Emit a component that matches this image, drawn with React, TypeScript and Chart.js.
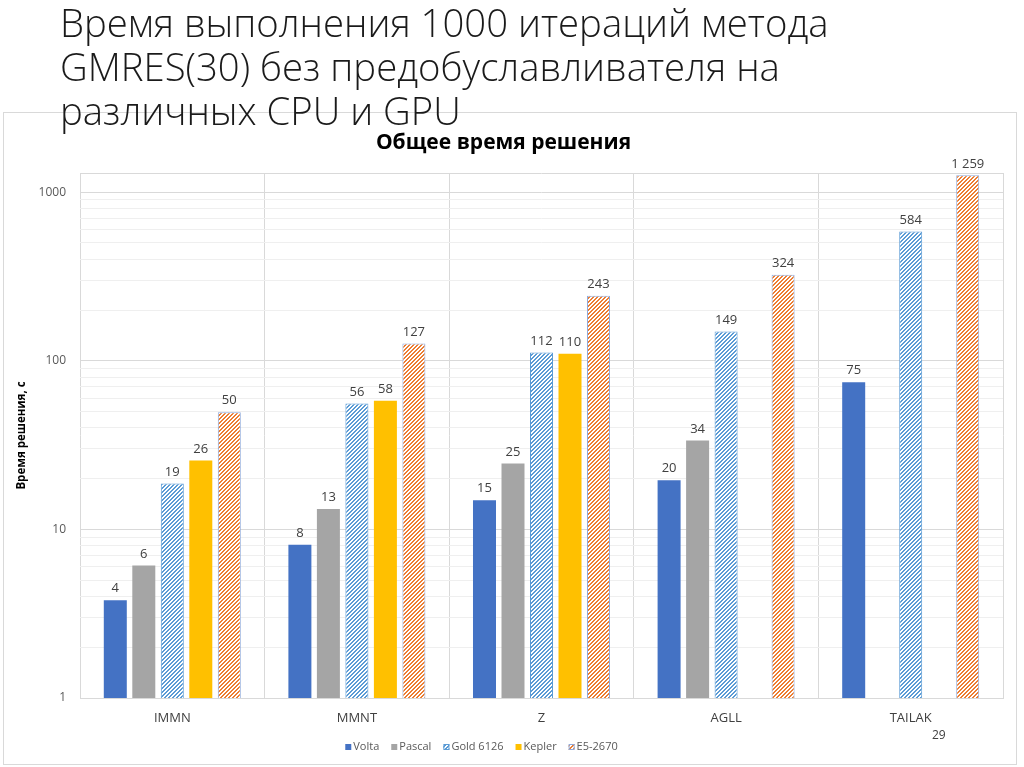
import React, { useEffect, useRef } from "react";
import { Chart, registerables } from "chart.js";

Chart.register(...registerables);

// ---- data ----
const categories = ["IMMN", "MMNT", "Z", "AGLL", "TAILAK"];
const seriesNames = ["Volta", "Pascal", "Gold 6126", "Kepler", "E5-2670"];
const volta = [3.8, 8.1, 14.9, 19.6, 74.6];
const pascal = [6.1, 13.2, 24.6, 33.7, null];
const gold6126 = [18.7, 55.8, 112, 149, 584];
const kepler = [25.6, 57.9, 110, null, null];
const e52670 = [49.5, 126.5, 243, 324, 1259];
const yMajorTicks = [1, 10, 100, 1000];
const yMin = 1;
const yMax = 1300;

const slideTitleLines = [
  "Время выполнения 1000 итераций метода",
  "GMRES(30) без предобуславливателя на",
  "различных CPU и GPU",
];
const chartTitle = "Общее время решения";
const yAxisTitle = "Время решения, с";
const pageNumber = "29";

const FONT = "'Open Sans', 'DejaVu Sans', sans-serif";

function fmt(v: number): string {
  const s = String(Math.round(v));
  return s.replace(/\B(?=(\d{3})+(?!\d))/g, " ");
}

function makeHatch(ctx: CanvasRenderingContext2D, color: string, bg: string, period: number, on: number) {
  const c = document.createElement("canvas");
  c.width = period;
  c.height = period;
  const g = c.getContext("2d")!;
  g.fillStyle = bg;
  g.fillRect(0, 0, period, period);
  g.fillStyle = color;
  for (let x = 0; x < period; x++)
    for (let y = 0; y < period; y++) if ((x + y) % period < on) g.fillRect(x, y, 1, 1);
  return ctx.createPattern(c, "repeat")!;
}

const dataLabelsPlugin = {
  id: "barValueLabels",
  afterDatasetsDraw(chart: any) {
    const ctx = chart.ctx;
    ctx.save();
    ctx.font = `13px ${FONT}`;
    ctx.fillStyle = "#404040";
    ctx.textAlign = "center";
    ctx.textBaseline = "bottom";
    chart.data.datasets.forEach((ds: any, i: number) => {
      const meta = chart.getDatasetMeta(i);
      meta.data.forEach((bar: any, j: number) => {
        const v = ds.data[j];
        if (v == null) return;
        ctx.fillText(fmt(v), bar.x, bar.y - 5);
      });
    });
    ctx.restore();
  },
};

const customLegendPlugin = {
  id: "customLegend",
  afterDraw(chart: any) {
    const ctx = chart.ctx;
    ctx.save();
    ctx.font = `11px ${FONT}`;
    ctx.textBaseline = "middle";
    ctx.textAlign = "left";
    const box = 6;
    const gapText = 2;
    const gapItem = 12;
    const items = chart.data.datasets.map((ds: any) => ({
      ds,
      w: box + gapText + ctx.measureText(ds.label).width,
    }));
    const total = items.reduce((a: number, it: any) => a + it.w, 0) + gapItem * (items.length - 1);
    const cx = 477.5;
    const cy = 634;
    let x = cx - total / 2;
    items.forEach((it: any) => {
      ctx.fillStyle = it.ds.backgroundColor;
      ctx.fillRect(x, cy - box / 2, box, box);
      if (it.ds.borderWidth) {
        ctx.strokeStyle = it.ds.borderColor;
        ctx.lineWidth = 1;
        ctx.strokeRect(x + 0.5, cy - box / 2 + 0.5, box - 1, box - 1);
      }
      ctx.fillStyle = "#595959";
      ctx.fillText(it.ds.label, x + box + gapText, cy);
      x += it.w + gapItem;
    });
    ctx.restore();
  },
};

export default function App() {
  const ref = useRef<HTMLCanvasElement>(null);

  useEffect(() => {
    const canvas = ref.current!;
    const ctx = canvas.getContext("2d")!;
    const goldPattern = makeHatch(ctx, "#5b9bd5", "#ffffff", 4, 2);
    const e5Pattern = makeHatch(ctx, "#ed7d31", "#ffffff", 4, 2);

    const minorTicks: number[] = [];
    for (let d = yMin; d < yMax; d *= 10) {
      for (let k = 1; k < 10; k++) {
        const v = d * k;
        if (v <= yMax) minorTicks.push(v);
      }
    }
    const allTicks = Array.from(new Set([...minorTicks, ...yMajorTicks, yMax])).sort((a, b) => a - b);

    const chart = new Chart(canvas, {
      type: "bar",
      data: {
        labels: categories,
        datasets: [
          { label: seriesNames[0], data: volta, backgroundColor: "#4472c4", borderWidth: 0 },
          { label: seriesNames[1], data: pascal, backgroundColor: "#a5a5a5", borderWidth: 0 },
          { label: seriesNames[2], data: gold6126, backgroundColor: goldPattern as any, borderColor: "#5b9bd5", borderWidth: 1 },
          { label: seriesNames[3], data: kepler, backgroundColor: "#ffc000", borderWidth: 0 },
          { label: seriesNames[4], data: e52670, backgroundColor: e5Pattern as any, borderColor: "#8faadc", borderWidth: 1 },
        ] as any,
      },
      options: {
        responsive: false,
        animation: false,
        events: [],
        layout: { padding: { left: 0, right: 13, top: 0, bottom: 33 } },
        datasets: {
          bar: { categoryPercentage: 0.772, barPercentage: 0.807 },
        } as any,
        plugins: {
          legend: { display: false },
          tooltip: { enabled: false },
          title: {
            display: true,
            text: chartTitle,
            color: "#000000",
            font: { family: FONT, size: 21, weight: "bold" },
            padding: { top: 17.4, bottom: 17.4 },
          },
        },
        scales: {
          x: {
            grid: { color: "#d9d9d9", drawTicks: false, offset: true },
            border: { color: "#d9d9d9" },
            ticks: { color: "#404040", font: { family: FONT, size: 13 }, padding: 12 },
            afterFit: (s: any) => {
              s.height = 33;
            },
          },
          y: {
            type: "logarithmic",
            min: yMin,
            max: yMax,
            border: { display: false },
            afterBuildTicks: (s: any) => {
              s.ticks = allTicks.map((v) => ({ value: v }));
            },
            afterFit: (s: any) => {
              s.width = 76;
            },
            grid: {
              drawTicks: false,
              color: (c: any) => {
                const v = c.tick ? c.tick.value : 0;
                return yMajorTicks.includes(v) || v === yMax ? "#d9d9d9" : "#efefef";
              },
            },
            ticks: {
              autoSkip: false,
              padding: 14,
              color: "#595959",
              font: { family: FONT, size: 12 },
              callback: (v: any) => (yMajorTicks.includes(Number(v)) ? String(v) : ""),
            },
            title: {
              display: true,
              text: yAxisTitle,
              color: "#000000",
              font: { family: FONT, size: 11.5, weight: "bold" },
              padding: { top: 11, bottom: 0 },
            },
          },
        },
      } as any,
      plugins: [dataLabelsPlugin, customLegendPlugin],
    });
    return () => chart.destroy();
  }, []);

  return (
    <div
      style={{
        position: "absolute",
        left: 0,
        top: 0,
        width: 1024,
        height: 767,
        background: "#ffffff",
        overflow: "hidden",
        fontFamily: FONT,
      }}
    >
      <div
        style={{
          position: "absolute",
          left: 3,
          top: 112,
          width: 1014,
          height: 653,
          border: "1px solid #d9d9d9",
          boxSizing: "border-box",
        }}
      >
        <canvas ref={ref} width={1012} height={651} style={{ display: "block", width: 1012, height: 651 }} />
      </div>
      <div
        style={{
          position: "absolute",
          left: 60,
          top: 0,
          fontSize: 38.3,
          lineHeight: "44px",
          fontWeight: 300,
          color: "#1a1a1a",
          whiteSpace: "nowrap",
        }}
      >
        {slideTitleLines.map((l, i) => (
          <div key={i}>{l}</div>
        ))}
      </div>
      <div
        style={{
          position: "absolute",
          left: 932,
          top: 727,
          fontSize: 12,
          lineHeight: "16px",
          color: "#404040",
        }}
      >
        {pageNumber}
      </div>
    </div>
  );
}
